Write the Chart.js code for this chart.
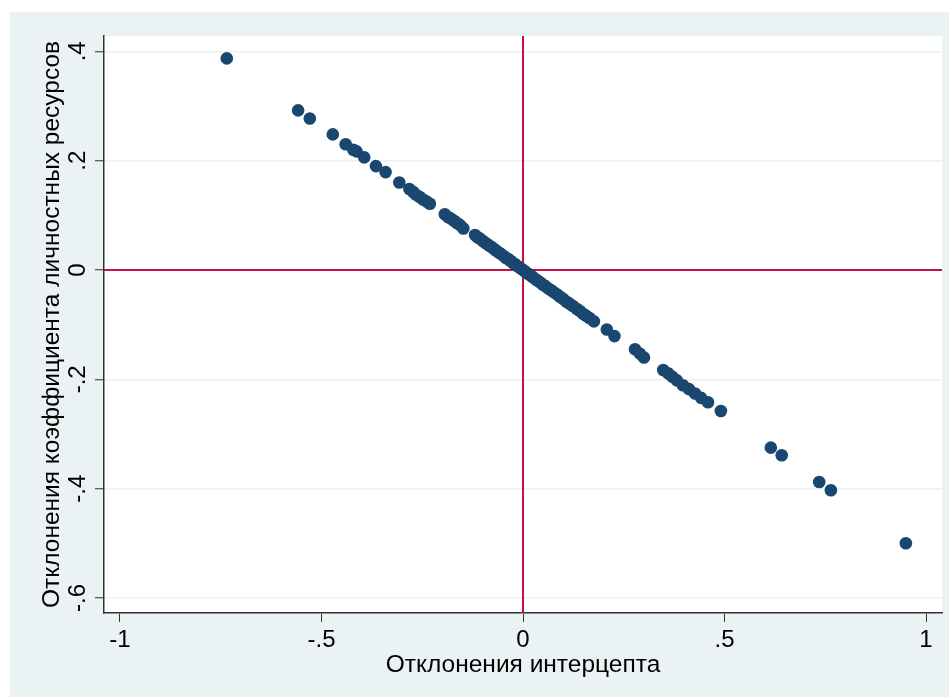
<!DOCTYPE html>
<html>
<head>
<meta charset="utf-8">
<script src="https://cdn.jsdelivr.net/npm/chart.js@4"></script>
<style>
  html, body { margin: 0; padding: 0; background: #fff; }
  canvas { display: block; }
</style>
</head>
<body>
<canvas id="chart" width="949" height="697"></canvas>
<script>
// intercept deviations (x) and slope deviations (y)
const interceptDev = [
  -0.735, -0.558, -0.529, -0.472, -0.440, -0.421, -0.413, -0.394, -0.365, -0.341, -0.307, -0.282,
  -0.273, -0.266, -0.257, -0.248, -0.239, -0.231,
  -0.194, -0.186, -0.179, -0.171, -0.164, -0.156, -0.148,
  -0.119, -0.113, -0.108, -0.101, -0.096, -0.090, -0.083, -0.078, -0.071, -0.066, -0.060, -0.054,
  -0.047, -0.042, -0.037, -0.031, -0.025, -0.020, -0.014, -0.009, -0.004, 0.002, 0.007, 0.013,
  0.019, 0.024, 0.031, 0.037, 0.043, 0.050, 0.056, 0.063, 0.070, 0.077, 0.085, 0.092, 0.100,
  0.108, 0.116, 0.124, 0.133, 0.141, 0.149, 0.157, 0.165, 0.176,
  0.208, 0.227, 0.278, 0.290, 0.300,
  0.348, 0.360, 0.370, 0.382, 0.397, 0.412, 0.427, 0.442, 0.459, 0.491,
  0.615, 0.642, 0.735, 0.764, 0.950
];
const slopeDev = [
  0.387, 0.292, 0.277, 0.248, 0.230, 0.220, 0.217, 0.206, 0.190, 0.179, 0.160, 0.148,
  0.143, 0.138, 0.134, 0.129, 0.125, 0.121,
  0.102, 0.097, 0.094, 0.090, 0.086, 0.082, 0.076,
  0.064, 0.060, 0.058, 0.054, 0.051, 0.048, 0.044, 0.042, 0.038, 0.035, 0.032, 0.029,
  0.025, 0.022, 0.020, 0.017, 0.013, 0.011, 0.007, 0.005, 0.002, -0.001, -0.004, -0.007,
  -0.010, -0.013, -0.017, -0.020, -0.023, -0.027, -0.030, -0.034, -0.037, -0.041, -0.045, -0.049, -0.053,
  -0.058, -0.062, -0.066, -0.071, -0.075, -0.080, -0.084, -0.088, -0.094,
  -0.109, -0.121, -0.145, -0.153, -0.160,
  -0.183, -0.189, -0.195, -0.202, -0.211, -0.218, -0.226, -0.234, -0.242, -0.258,
  -0.325, -0.339, -0.388, -0.403, -0.500
];

const xTickValues = [-1, -0.5, 0, 0.5, 1];
const xTickLabels = ['-1', '-.5', '0', '.5', '1'];
const yTickValues = [-0.6, -0.4, -0.2, 0, 0.2, 0.4];
const yTickLabels = ['-.6', '-.4', '-.2', '0', '.2', '.4'];

const xTitle = 'Отклонения интерцепта';
const yTitle = 'Отклонения коэффициента личностных ресурсов';

const FONT = '"Liberation Sans", Arial, Helvetica, sans-serif';
const BG = '#eaf2f3';
const INK = '#333333';

// stata-like backdrop: light outer panel, white plot region
const backdrop = {
  id: 'backdrop',
  beforeDraw(chart) {
    const { ctx, chartArea: a, width, height } = chart;
    ctx.save();
    ctx.fillStyle = '#ffffff';
    ctx.fillRect(0, 0, width, height);
    ctx.fillStyle = BG;
    ctx.fillRect(10, 12, width - 10, height - 12);
    ctx.fillStyle = '#ffffff';
    ctx.fillRect(a.left, a.top, a.right - a.left, a.bottom - a.top);
    ctx.restore();
  }
};

// reference lines at x = 0 and y = 0
const zeroLines = {
  id: 'zeroLines',
  beforeDatasetsDraw(chart) {
    const { ctx, chartArea: a, scales } = chart;
    const px = scales.x.getPixelForValue(0);
    const py = scales.y.getPixelForValue(0);
    ctx.save();
    ctx.strokeStyle = '#c8103e';
    ctx.lineWidth = 2;
    ctx.beginPath();
    ctx.moveTo(px, a.top);
    ctx.lineTo(px, a.bottom);
    ctx.moveTo(a.left, py);
    ctx.lineTo(a.right, py);
    ctx.stroke();
    ctx.restore();
  }
};

new Chart(document.getElementById('chart'), {
  type: 'scatter',
  data: {
    datasets: [{
      data: interceptDev.map((x, i) => ({ x: x, y: slopeDev[i] })),
      backgroundColor: '#1a476f',
      borderWidth: 0,
      pointRadius: 6.3,
      pointHoverRadius: 6.3
    }]
  },
  options: {
    responsive: false,
    animation: false,
    devicePixelRatio: 1,
    layout: { padding: { left: 0, top: 36, right: 7, bottom: 0 } },
    plugins: {
      legend: { display: false },
      tooltip: { enabled: false }
    },
    scales: {
      x: {
        type: 'linear',
        min: -1.0397,
        max: 1.0397,
        afterBuildTicks: (scale) => { scale.ticks = xTickValues.map(v => ({ value: v })); },
        afterFit: (scale) => { scale.height = 84; },
        border: { display: true, color: INK, width: 1.5 },
        grid: { drawOnChartArea: false, drawTicks: true, tickLength: 9, tickColor: INK, tickWidth: 1 },
        ticks: {
          padding: 4,
          color: '#000',
          font: { family: FONT, size: 24 },
          maxRotation: 0,
          callback: (v, i) => xTickLabels[i]
        },
        title: {
          display: true,
          text: xTitle,
          color: '#000',
          font: { family: FONT, size: 24.5 },
          padding: { top: 0, bottom: 17 }
        }
      },
      y: {
        type: 'linear',
        min: -0.6275,
        max: 0.428,
        afterBuildTicks: (scale) => { scale.ticks = yTickValues.map(v => ({ value: v })); },
        afterFit: (scale) => { scale.width = 104; },
        border: { display: true, color: INK, width: 1.5 },
        grid: { color: BG, lineWidth: 1.5, drawTicks: true, tickLength: 9, tickColor: INK, tickWidth: 1 },
        ticks: {
          padding: 3,
          color: '#000',
          font: { family: FONT, size: 24 },
          minRotation: 90,
          maxRotation: 90,
          crossAlign: 'center',
          callback: (v, i) => yTickLabels[i]
        },
        title: {
          display: true,
          text: yTitle,
          color: '#000',
          font: { family: FONT, size: 24.5 },
          padding: { top: 38, bottom: 0 }
        }
      }
    }
  },
  plugins: [backdrop, zeroLines]
});
</script>
</body>
</html>
